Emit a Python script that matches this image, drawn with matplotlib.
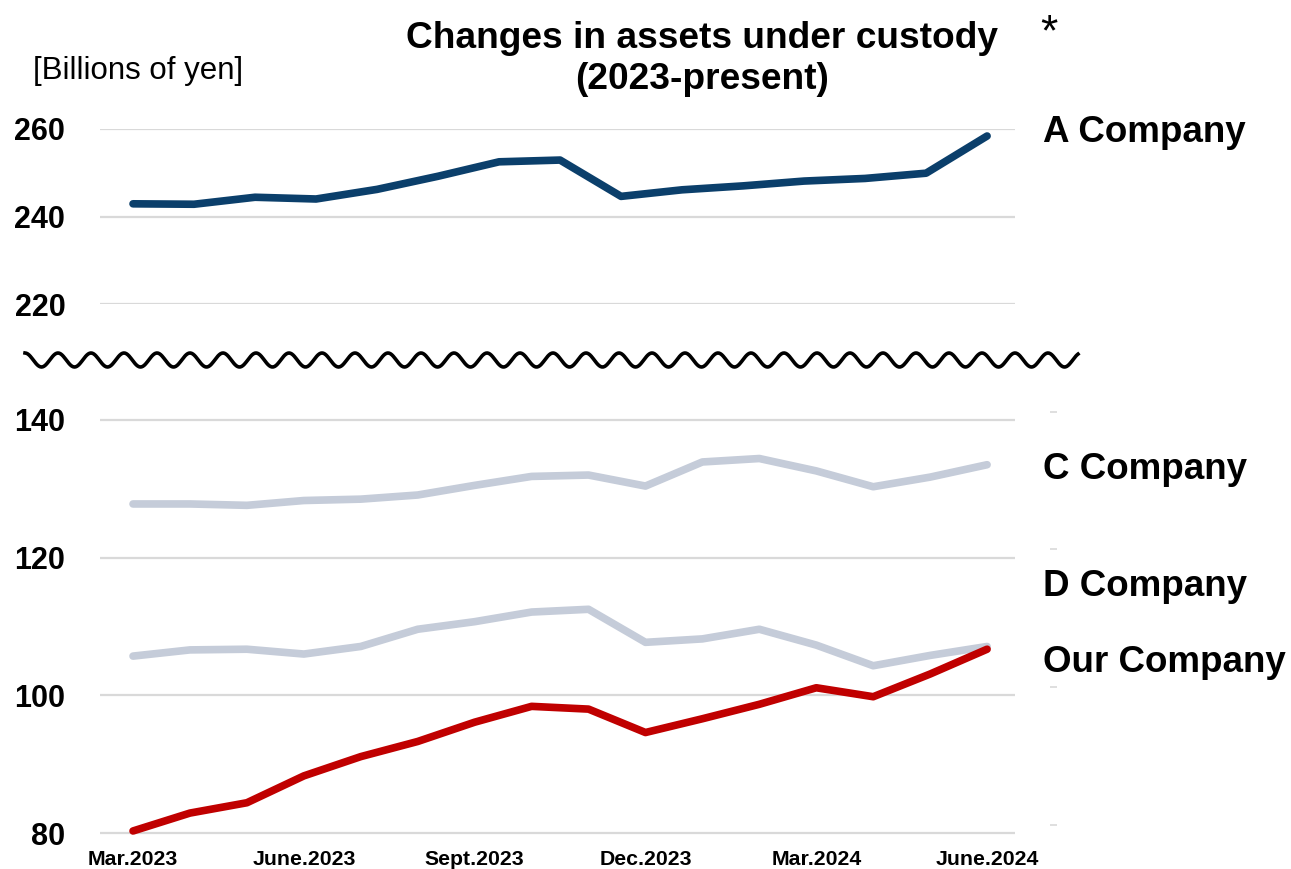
"""Changes in assets under custody (2023-present), broken y axis."""
import numpy as np
import matplotlib.pyplot as plt

plt.rcParams["font.family"] = ["Liberation Sans", "DejaVu Sans"]

months = ["Mar.2023", "Apr.2023", "May.2023", "June.2023", "July.2023", "Aug.2023",
          "Sept.2023", "Oct.2023", "Nov.2023", "Dec.2023", "Jan.2024", "Feb.2024",
          "Mar.2024", "Apr.2024", "May.2024", "June.2024"]
tick_labels = ["Mar.2023", "June.2023", "Sept.2023", "Dec.2023", "Mar.2024", "June.2024"]

# A Company series has 15 points spread over the same span
a_company = [242.9, 242.8, 244.4, 244.0, 246.2, 249.2, 252.5, 252.9,
             244.6, 246.1, 247.0, 248.1, 248.7, 249.9, 258.4]
c_company = [127.8, 127.8, 127.6, 128.3, 128.5, 129.1, 130.5, 131.8,
             132.0, 130.4, 133.9, 134.4, 132.6, 130.3, 131.7, 133.5]
d_company = [105.7, 106.6, 106.7, 106.0, 107.1, 109.6, 110.7, 112.1,
             112.5, 107.7, 108.2, 109.6, 107.3, 104.3, 105.8, 107.1]
our_company = [80.3, 82.9, 84.4, 88.3, 91.1, 93.3, 96.1, 98.4,
               98.0, 94.6, 96.6, 98.7, 101.1, 99.8, 103.1, 106.7]

NAVY = "#0b3f6b"
RED = "#c00000"
GREY = "#c5ccd9"
GRID = "#d9d9d9"

W, H = 1291, 869
fig = plt.figure(figsize=(W / 100, H / 100), dpi=100)


def fx(px):
    return px / W


def fy(py):
    return 1 - py / H


x_m = np.arange(len(months))
x_a = np.linspace(0, len(months) - 1, len(a_company))
xlim = (-0.58, 15.49)
left, right = fx(100), fx(1015)
LW = 5.5

# top panel (220-260)
ax_top = fig.add_axes([left, fy(304), right - left, fy(129) - fy(304)])
ax_top.plot(x_a, a_company, color=NAVY, lw=LW, solid_capstyle="round", clip_on=False)
ax_top.set_ylim(220, 260)
ax_top.set_yticks([220, 240, 260])

# bottom panel (80-140), padded so the right-hand dashes fit
ax_bot = fig.add_axes([left, fy(846.8), right - left, fy(406.2) - fy(846.8)])
ax_bot.plot(x_m, c_company, color=GREY, lw=LW, solid_capstyle="round")
ax_bot.plot(x_m, d_company, color=GREY, lw=LW, solid_capstyle="round")
ax_bot.plot(x_m, our_company, color=RED, lw=LW, solid_capstyle="round")
ax_bot.set_ylim(78, 142)
ax_bot.set_yticks([80, 100, 120, 140])
ax_bot.set_xticks(x_m[::3])
ax_bot.set_xticklabels(tick_labels, fontsize=15.3, fontweight="bold")
ax_bot.tick_params(axis="x", length=0, pad=2.5)

for ax in (ax_top, ax_bot):
    ax.set_xlim(*xlim)
    ax.grid(axis="y", color=GRID, lw=1.6)
    ax.set_axisbelow(True)
    for s in ax.spines.values():
        s.set_visible(False)
    ax.tick_params(axis="y", length=0, pad=25, labelsize=22)
    for t in ax.get_yticklabels():
        t.set_fontweight("bold")
ax_top.set_xticks([])

# small grey dashes at the right edge
ax_r = ax_bot.twinx()
ax_r.set_ylim(ax_bot.get_ylim())
ax_r.set_yticks([81.2, 101.2, 121.2, 141.2])
ax_r.set_yticklabels([])
ax_r.spines["right"].set_position(("outward", 25))
for s in ax_r.spines.values():
    s.set_visible(False)
ax_r.tick_params(axis="y", length=5, width=1.2, color=GRID, direction="out")

# wavy break line
wx = np.linspace(25, 1078, 1600)
wy = 360 + 7 * np.sin((wx - 25) / 33.0 * 2 * np.pi - np.pi / 2)
fig.add_artist(plt.Line2D(fx(wx), fy(wy), color="black", lw=2.6))

# texts
fig.text(fx(702), fy(59), "Changes in assets under custody\n(2023-present)",
         ha="center", va="center", fontsize=26.7, fontweight="bold", linespacing=1.2)
fig.text(fx(1049), fy(34), "*", ha="center", va="center", fontsize=32)
fig.text(fx(33), fy(71), "[Billions of yen]", ha="left", va="center", fontsize=22.5)

labels = [("A Company", 132), ("C Company", 470), ("D Company", 586), ("Our Company", 663)]
for name, py in labels:
    fig.text(fx(1043), fy(py), name, ha="left", va="center", fontsize=26.5, fontweight="bold")

fig.savefig("out.png", dpi=100)
